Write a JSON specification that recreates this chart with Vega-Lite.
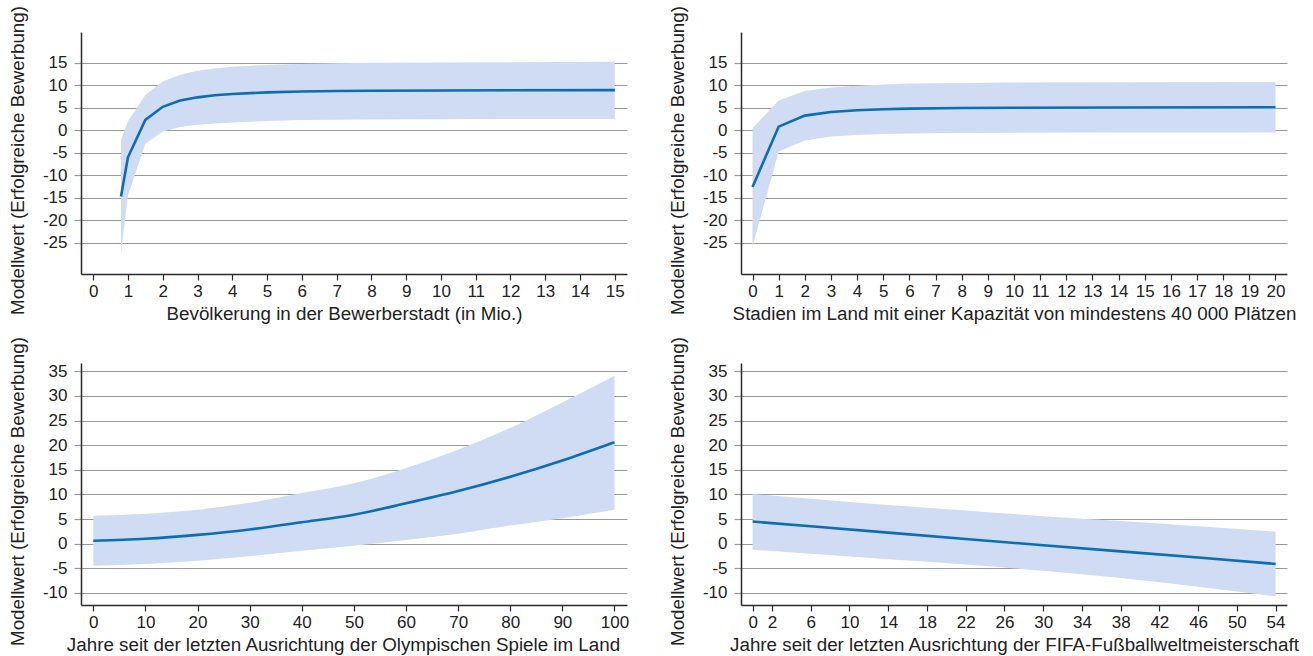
{
  "$schema": "https://vega.github.io/schema/vega-lite/v6.json",
  "background": "white",
  "padding": {"left": 8, "top": 5, "right": 5, "bottom": 5},
  "columns": 2,
  "spacing": {"row": 89, "column": 114},
  "bounds": "flush",
  "config": {
    "font": "Liberation Sans",
    "view": {"stroke": null},
    "axis": {
      "labelFont": "Liberation Sans",
      "titleFont": "Liberation Sans",
      "labelFontSize": 17,
      "titleFontSize": 18.8,
      "titleFontWeight": "normal",
      "labelColor": "#222222",
      "titleColor": "#222222",
      "labelFlush": false,
      "labelOverlap": false
    },
    "axisX": {
      "domainColor": "#2a2a2a",
      "domainWidth": 1.5,
      "tickColor": "#2a2a2a",
      "tickSize": 6,
      "tickWidth": 1.2,
      "labelPadding": 3,
      "grid": false,
      "titlePadding": 5
    },
    "axisY": {
      "domainColor": "#2a2a2a",
      "domainWidth": 1.5,
      "tickColor": "#999999",
      "tickSize": 7,
      "tickWidth": 1.2,
      "labelPadding": 7,
      "grid": true,
      "gridColor": "#999999",
      "gridWidth": 1.2,
      "titlePadding": 15,
      "titleY": 128
    }
  },
  "datasets": {
    "p1": [
      {"x": 0.8, "fit": -14.7, "lo": -27.3, "hi": -2.1},
      {"x": 1.0, "fit": -6.0, "lo": -14.5, "hi": 2.0},
      {"x": 1.5, "fit": 2.3, "lo": -3.0, "hi": 7.8},
      {"x": 2.0, "fit": 5.2, "lo": -0.3, "hi": 10.8},
      {"x": 2.5, "fit": 6.6, "lo": 0.7, "hi": 12.3},
      {"x": 3.0, "fit": 7.3, "lo": 1.2, "hi": 13.2},
      {"x": 3.5, "fit": 7.75, "lo": 1.5, "hi": 13.7},
      {"x": 4.0, "fit": 8.05, "lo": 1.7, "hi": 14.1},
      {"x": 5.0, "fit": 8.4, "lo": 2.05, "hi": 14.5},
      {"x": 6.0, "fit": 8.6, "lo": 2.25, "hi": 14.7},
      {"x": 7.0, "fit": 8.7, "lo": 2.35, "hi": 14.85},
      {"x": 8.0, "fit": 8.75, "lo": 2.4, "hi": 14.95},
      {"x": 10.0, "fit": 8.82, "lo": 2.45, "hi": 15.05},
      {"x": 12.0, "fit": 8.86, "lo": 2.5, "hi": 15.1},
      {"x": 15.0, "fit": 8.9, "lo": 2.5, "hi": 15.2}
    ],
    "p2": [
      {"x": 0, "fit": -12.6, "lo": -25.8, "hi": 0.45},
      {"x": 1, "fit": 0.8, "lo": -4.7, "hi": 6.6},
      {"x": 2, "fit": 3.25, "lo": -2.3, "hi": 8.7},
      {"x": 3, "fit": 4.05, "lo": -1.4, "hi": 9.5},
      {"x": 4, "fit": 4.45, "lo": -1.05, "hi": 9.9},
      {"x": 5, "fit": 4.65, "lo": -0.85, "hi": 10.15},
      {"x": 6, "fit": 4.8, "lo": -0.7, "hi": 10.35},
      {"x": 8, "fit": 4.92, "lo": -0.6, "hi": 10.5},
      {"x": 10, "fit": 5.0, "lo": -0.55, "hi": 10.6},
      {"x": 14, "fit": 5.05, "lo": -0.5, "hi": 10.65},
      {"x": 20, "fit": 5.1, "lo": -0.5, "hi": 10.7}
    ],
    "p3": [
      {"x": 0, "fit": 0.6, "lo": -4.45, "hi": 5.7},
      {"x": 10, "fit": 1.0, "lo": -4.1, "hi": 6.1},
      {"x": 20, "fit": 1.8, "lo": -3.45, "hi": 6.9},
      {"x": 30, "fit": 2.9, "lo": -2.55, "hi": 8.3},
      {"x": 40, "fit": 4.35, "lo": -1.4, "hi": 10.3},
      {"x": 50, "fit": 5.9, "lo": -0.4, "hi": 12.3},
      {"x": 60, "fit": 8.2, "lo": 0.75, "hi": 15.4},
      {"x": 70, "fit": 10.7, "lo": 2.05, "hi": 19.1},
      {"x": 80, "fit": 13.6, "lo": 3.7, "hi": 23.5},
      {"x": 90, "fit": 16.9, "lo": 5.2, "hi": 28.7},
      {"x": 100, "fit": 20.6, "lo": 6.9, "hi": 34.1}
    ],
    "p4": [
      {"x": 0, "fit": 4.5, "lo": -1.2, "hi": 10.1},
      {"x": 6, "fit": 3.55, "lo": -2.05, "hi": 9.15},
      {"x": 14, "fit": 2.25, "lo": -3.15, "hi": 7.85},
      {"x": 22, "fit": 0.95, "lo": -4.2, "hi": 6.75},
      {"x": 30, "fit": -0.3, "lo": -5.5, "hi": 5.6},
      {"x": 38, "fit": -1.55, "lo": -6.95, "hi": 4.6},
      {"x": 46, "fit": -2.8, "lo": -8.75, "hi": 3.55},
      {"x": 54, "fit": -4.1, "lo": -10.7, "hi": 2.45}
    ]
  },
  "concat": [
    {
      "width": 546, "height": 242,
      "data": {"name": "p1"},
      "encoding": {
        "x": {"field": "x", "type": "quantitative",
          "scale": {"domain": [-0.35, 15.35], "nice": false, "zero": false},
          "axis": {"values": [0,1,2,3,4,5,6,7,8,9,10,11,12,13,14,15], "labelOverlap": false, "titleX": 263, "title": "Bevölkerung in der Bewerberstadt (in Mio.)"}}
      },
      "layer": [
        {"mark": {"type": "area", "color": "#cfdcf3", "opacity": 1},
         "encoding": {
           "y": {"field": "lo", "type": "quantitative", "scale": {"domain": [-31.9, 21.8], "nice": false, "zero": false},
             "axis": {"values": [-25,-20,-15,-10,-5,0,5,10,15], "labelOverlap": false, "labelExpr": "datum.value < 0 ? '-' + (-datum.value) : '' + datum.value", "title": "Modellwert (Erfolgreiche Bewerbung)"}},
           "y2": {"field": "hi"}}},
        {"mark": {"type": "line", "color": "#0b6db4", "strokeWidth": 2.6},
         "encoding": {"y": {"field": "fit", "type": "quantitative",
             "axis": {"values": [-25,-20,-15,-10,-5,0,5,10,15], "labelOverlap": false, "labelExpr": "datum.value < 0 ? '-' + (-datum.value) : '' + datum.value", "title": "Modellwert (Erfolgreiche Bewerbung)"}}}}
      ]
    },
    {
      "width": 546, "height": 242,
      "data": {"name": "p2"},
      "encoding": {
        "x": {"field": "x", "type": "quantitative",
          "scale": {"domain": [-0.44, 20.44], "nice": false, "zero": false},
          "axis": {"values": [0,1,2,3,4,5,6,7,8,9,10,11,12,13,14,15,16,17,18,19,20], "labelOverlap": false, "title": "Stadien im Land mit einer Kapazität von mindestens 40 000 Plätzen"}}
      },
      "layer": [
        {"mark": {"type": "area", "color": "#cfdcf3", "opacity": 1},
         "encoding": {
           "y": {"field": "lo", "type": "quantitative", "scale": {"domain": [-31.9, 21.8], "nice": false, "zero": false},
             "axis": {"values": [-25,-20,-15,-10,-5,0,5,10,15], "labelOverlap": false, "labelExpr": "datum.value < 0 ? '-' + (-datum.value) : '' + datum.value", "title": "Modellwert (Erfolgreiche Bewerbung)"}},
           "y2": {"field": "hi"}}},
        {"mark": {"type": "line", "color": "#0b6db4", "strokeWidth": 2.6},
         "encoding": {"y": {"field": "fit", "type": "quantitative",
             "axis": {"values": [-25,-20,-15,-10,-5,0,5,10,15], "labelOverlap": false, "labelExpr": "datum.value < 0 ? '-' + (-datum.value) : '' + datum.value", "title": "Modellwert (Erfolgreiche Bewerbung)"}}}}
      ]
    },
    {
      "width": 546, "height": 242,
      "data": {"name": "p3"},
      "encoding": {
        "x": {"field": "x", "type": "quantitative",
          "scale": {"domain": [-2.36, 102.4], "nice": false, "zero": false},
          "axis": {"values": [0,10,20,30,40,50,60,70,80,90,100], "labelOverlap": false, "titleX": 262, "title": "Jahre seit der letzten Ausrichtung der Olympischen Spiele im Land"}}
      },
      "layer": [
        {"mark": {"type": "area", "color": "#cfdcf3", "opacity": 1, "interpolate": "monotone"},
         "encoding": {
           "y": {"field": "lo", "type": "quantitative", "scale": {"domain": [-12.44, 36.7], "nice": false, "zero": false},
             "axis": {"values": [-10,-5,0,5,10,15,20,25,30,35], "labelOverlap": false, "labelExpr": "datum.value < 0 ? '-' + (-datum.value) : '' + datum.value", "title": "Modellwert (Erfolgreiche Bewerbung)"}},
           "y2": {"field": "hi"}}},
        {"mark": {"type": "line", "color": "#0b6db4", "strokeWidth": 2.6, "interpolate": "monotone"},
         "encoding": {"y": {"field": "fit", "type": "quantitative",
             "axis": {"values": [-10,-5,0,5,10,15,20,25,30,35], "labelOverlap": false, "labelExpr": "datum.value < 0 ? '-' + (-datum.value) : '' + datum.value", "title": "Modellwert (Erfolgreiche Bewerbung)"}}}}
      ]
    },
    {
      "width": 546, "height": 242,
      "data": {"name": "p4"},
      "encoding": {
        "x": {"field": "x", "type": "quantitative",
          "scale": {"domain": [-1.2, 55.18], "nice": false, "zero": false},
          "axis": {"values": [0,2,6,10,14,18,22,26,30,34,38,42,46,50,54], "labelOverlap": false, "title": "Jahre seit der letzten Ausrichtung der FIFA-Fußballweltmeisterschaft"}}
      },
      "layer": [
        {"mark": {"type": "area", "color": "#cfdcf3", "opacity": 1, "interpolate": "monotone"},
         "encoding": {
           "y": {"field": "lo", "type": "quantitative", "scale": {"domain": [-12.44, 36.7], "nice": false, "zero": false},
             "axis": {"values": [-10,-5,0,5,10,15,20,25,30,35], "labelOverlap": false, "labelExpr": "datum.value < 0 ? '-' + (-datum.value) : '' + datum.value", "title": "Modellwert (Erfolgreiche Bewerbung)"}},
           "y2": {"field": "hi"}}},
        {"mark": {"type": "line", "color": "#0b6db4", "strokeWidth": 2.6},
         "encoding": {"y": {"field": "fit", "type": "quantitative",
             "axis": {"values": [-10,-5,0,5,10,15,20,25,30,35], "labelOverlap": false, "labelExpr": "datum.value < 0 ? '-' + (-datum.value) : '' + datum.value", "title": "Modellwert (Erfolgreiche Bewerbung)"}}}}
      ]
    }
  ]
}
